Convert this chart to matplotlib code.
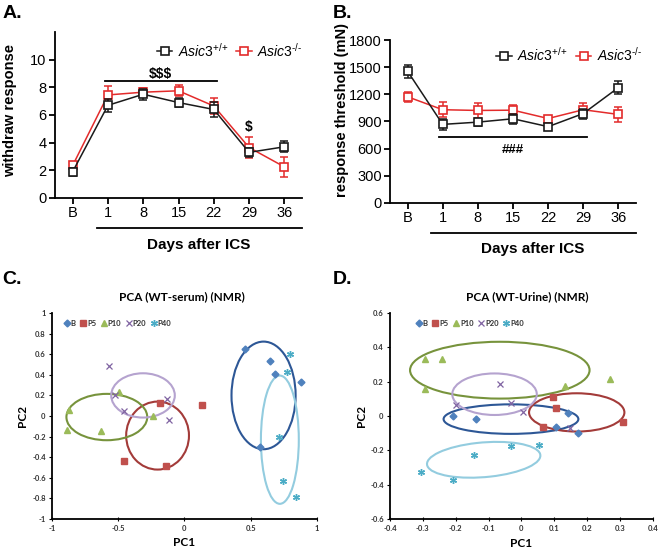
import numpy as np
import matplotlib
matplotlib.use('Agg')
import matplotlib.pyplot as plt
from matplotlib.patches import Ellipse
from matplotlib.ticker import FuncFormatter

plt.rcParams['font.family'] = ['Liberation Sans', 'DejaVu Sans']
plt.rcParams['mathtext.fontset'] = 'custom'
plt.rcParams['mathtext.it'] = 'Liberation Sans:italic'
plt.rcParams['mathtext.rm'] = 'Liberation Sans'
plt.rcParams['axes.unicode_minus'] = False

# ---- panel A / B data ----
days = ['B', '1', '8', '15', '22', '29', '36']
withdraw_wt = [1.9, 6.7, 7.5, 6.9, 6.4, 3.3, 3.7]
withdraw_wt_err = [0.3, 0.45, 0.4, 0.3, 0.55, 0.35, 0.4]
withdraw_ko = [2.35, 7.45, 7.65, 7.75, 6.65, 3.65, 2.25]
withdraw_ko_err = [0.2, 0.65, 0.3, 0.4, 0.6, 0.75, 0.72]

thresh_wt = [1455, 868, 893, 930, 843, 988, 1275]
thresh_wt_err = [70, 65, 40, 55, 25, 55, 75]
thresh_ko = [1173, 1030, 1022, 1025, 933, 1030, 978]
thresh_ko_err = [55, 85, 85, 55, 25, 75, 85]

# ---- panel C / D data (PCA scores) ----
groups = ['B', 'P5', 'P10', 'P20', 'P40']
serum_x = {
    'B': [0.455, 0.649, 0.684, 0.877, 0.568],
    'P5': [-0.184, 0.129, -0.453, -0.142],
    'P10': [-0.87, -0.887, -0.629, -0.493, -0.235],
    'P20': [-0.571, -0.523, -0.455, -0.134, -0.119],
    'P40': [0.794, 0.774, 0.714, 0.744, 0.844],
}
serum_y = {
    'B': [0.65, 0.53, 0.41, 0.33, -0.30],
    'P5': [0.13, 0.11, -0.44, -0.49],
    'P10': [0.055, -0.14, -0.15, 0.23, 0.0],
    'P20': [0.485, 0.2, 0.05, 0.17, -0.04],
    'P40': [0.60, 0.43, -0.20, -0.63, -0.79],
}
urine_x = {
    'B': [-0.209, -0.139, 0.141, 0.105, 0.172],
    'P5': [0.096, 0.105, 0.065, 0.309],
    'P10': [-0.293, -0.242, -0.293, 0.131, 0.27],
    'P20': [-0.065, -0.199, -0.031, 0.004, 0.148],
    'P40': [-0.307, -0.209, -0.144, -0.031, 0.053],
}
urine_y = {
    'B': [0.0, -0.02, 0.018, -0.064, -0.099],
    'P5': [0.11, 0.047, -0.064, -0.035],
    'P10': [0.333, 0.333, 0.159, 0.174, 0.213],
    'P20': [0.186, 0.064, 0.077, 0.025, -0.07],
    'P40': [-0.329, -0.375, -0.228, -0.172, -0.168],
}
# confidence ellipses: centre x, centre y, width, height, angle
serum_ell = {
    'B': (0.597, 0.2, 0.484, 1.045, 0),
    'P5': (-0.203, -0.19, 0.474, 0.66, 0),
    'P10': (-0.586, -0.01, 0.61, 0.45, 0),
    'P20': (-0.313, 0.2, 0.48, 0.43, 0),
    'P40': (0.72, -0.23, 0.286, 1.245, 0),
}
urine_ell = {
    'B': (-0.032, -0.018, 0.41, 0.172, 0),
    'P5': (0.168, 0.021, 0.29, 0.223, 0),
    'P10': (-0.066, 0.267, 0.546, 0.331, 0),
    'P20': (-0.082, 0.127, 0.257, 0.242, 0),
    'P40': (-0.115, -0.255, 0.35, 0.2, 12),
}

marker_style = {
    'B': dict(marker='D', color='#4F81BD', ms=3.5),
    'P5': dict(marker='s', color='#C0504D', ms=4.2),
    'P10': dict(marker='^', color='#9BBB59', ms=4.8),
    'P20': dict(marker='x', color='#8064A2', ms=4.5, mew=0.9),
    'P40': dict(marker=(6, 2, 0), color='#4BACC6', ms=5, mew=1.0),
}
ellipse_color = {'B': '#2D5796', 'P5': '#A33B39', 'P10': '#77933C',
                 'P20': '#B5A3CF', 'P40': '#93CCDF'}

fig = plt.figure(figsize=(6.58, 5.48), dpi=100)

black = '#1a1a1a'
red = '#E32B2B'
labels = [r'$Asic3^{\text{+/+}}$', r'$Asic3^{\text{-/-}}$']


def line_panel(rect, wt, wt_err, ko, ko_err, ylim, yticks, ylabel, ylab_xy,
               leg_xy, under_x0, under_y, xlab_y):
    ax = fig.add_axes(rect)
    x = np.arange(len(days))
    handles = []
    for vals, errs, col, lab, z in [(wt, wt_err, black, labels[0], 3),
                                    (ko, ko_err, red, labels[1], 2)]:
        ax.errorbar(x, vals, yerr=errs, color=col, fmt='none', capsize=3,
                    elinewidth=1.1, capthick=1.1, zorder=z)
        h, = ax.plot(x, vals, color=col, marker='s', ms=5.5, mfc='white',
                     mew=1.2, lw=1.1, label=lab, zorder=z)
        handles.append(h)
    ax.set_xlim(-0.5, 6.5)
    ax.set_ylim(*ylim)
    ax.set_yticks(yticks)
    ax.set_xticks(x)
    ax.set_xticklabels(days)
    for s in ['top', 'right']:
        ax.spines[s].set_visible(False)
    for s in ['left', 'bottom']:
        ax.spines[s].set_linewidth(1.3)
    ax.tick_params(width=1.3, length=4, labelsize=10.5, pad=2)
    ax.set_ylabel(ylabel, fontsize=10.5, fontweight='bold')
    ax.yaxis.set_label_coords(*ylab_xy)
    ax.legend(handles=handles, loc='center left', bbox_to_anchor=leg_xy, ncol=2,
              frameon=False, fontsize=10, handlelength=1.1, handletextpad=0.4,
              columnspacing=0.6, borderaxespad=0)
    ax.plot([under_x0, 6.5], [under_y, under_y], color='black', lw=1.3,
            transform=ax.get_xaxis_transform(), clip_on=False)
    ax.text(3.57, xlab_y, 'Days after ICS', transform=ax.get_xaxis_transform(),
            ha='center', va='center', fontsize=11, fontweight='bold')
    return ax


axA = line_panel([0.0836, 0.6387, 0.3754, 0.3029], withdraw_wt, withdraw_wt_err,
                 withdraw_ko, withdraw_ko_err, (0, 12), [0, 2, 4, 6, 8, 10],
                 'withdraw response', (-0.155, 0.53), (0.39, 0.89), 0.68, -0.18, -0.285)
axA.plot([0.93, 4.08], [8.45, 8.45], color='black', lw=1.3)
axA.text(2.5, 8.95, r'\$\$\$', ha='center', va='center', fontsize=10, fontweight='bold')
axA.text(5, 5.1, r'\$', ha='center', va='center', fontsize=10, fontweight='bold')

axB = line_panel([0.5927, 0.6296, 0.3739, 0.2974], thresh_wt, thresh_wt_err,
                 thresh_ko, thresh_ko_err, (0, 1800), [0, 300, 600, 900, 1200, 1500, 1800],
                 'response threshold (mN)', (-0.168, 0.57), (0.41, 0.91), 0.66, -0.184, -0.28)
axB.plot([0.89, 5.1], [730, 730], color='black', lw=1.3)
axB.text(3.0, 590, '###', ha='center', va='center', fontsize=9.5, fontweight='bold')

fig.text(0.004, 0.975, 'A.', fontsize=14, fontweight='bold', va='center')
fig.text(0.505, 0.975, 'B.', fontsize=14, fontweight='bold', va='center')
fig.text(0.004, 0.49, 'C.', fontsize=14, fontweight='bold', va='center')
fig.text(0.505, 0.49, 'D.', fontsize=14, fontweight='bold', va='center')


def fmt(v, _):
    return f'{round(v, 2):g}'


def pca_panel(rect, xs, ys, ells, xlim, ylim, xticks, yticks, title, title_x,
              leg_x, pc2_x, pc1_y):
    ax = fig.add_axes(rect)
    for g in groups:
        st = marker_style[g]
        ax.plot(xs[g], ys[g], ls='none', label=g, zorder=3, **st)
        cx, cy, w, h, a = ells[g]
        ax.add_patch(Ellipse((cx, cy), w, h, angle=a, fill=False,
                             ec=ellipse_color[g], lw=1.5, zorder=2))
    ax.set_xlim(*xlim)
    ax.set_ylim(*ylim)
    ax.set_xticks(xticks)
    ax.set_yticks(yticks)
    ax.xaxis.set_major_formatter(FuncFormatter(fmt))
    ax.yaxis.set_major_formatter(FuncFormatter(fmt))
    for s in ['top', 'right']:
        ax.spines[s].set_visible(False)
    for s in ['left', 'bottom']:
        ax.spines[s].set_linewidth(1.3)
    ax.tick_params(axis='y', direction='out', length=2.5, width=0.8, pad=2)
    ax.tick_params(axis='x', direction='inout', length=3, width=0.8, pad=3)
    for lab in ax.get_xticklabels() + ax.get_yticklabels():
        lab.set_fontfamily('Lato')
        lab.set_fontweight('bold')
        lab.set_fontsize(5.5)
        lab.set_color('#333333')
    ax.set_title(title, fontfamily='Lato', fontweight='bold', fontsize=8.5,
                 x=title_x, y=1.02)
    ax.set_xlabel('PC1', fontfamily='Lato', fontweight='bold', fontsize=8.5)
    ax.set_ylabel('PC2', fontfamily='Lato', fontweight='bold', fontsize=8.5)
    ax.xaxis.set_label_coords(0.5, pc1_y)
    ax.yaxis.set_label_coords(pc2_x, 0.5)
    ax.legend(loc='center left', bbox_to_anchor=(leg_x, 0.95), ncol=5, frameon=False,
              prop=dict(family='Lato', weight='bold', size=5.5), handlelength=0.6,
              handletextpad=0.2, columnspacing=0.7, borderaxespad=0,
              labelcolor='#333333')
    return ax


pca_panel([0.079, 0.0529, 0.4027, 0.3759], serum_x, serum_y, serum_ell,
          (-1, 1), (-1, 1), [-1, -0.5, 0, 0.5, 1], np.round(np.linspace(-1, 1, 11), 1),
          'PCA (WT-serum) (NMR)', 0.49, 0.035, -0.09, -0.085)
pca_panel([0.5927, 0.0529, 0.3997, 0.3759], urine_x, urine_y, urine_ell,
          (-0.4, 0.4), (-0.6, 0.6), np.round(np.linspace(-0.4, 0.4, 9), 1),
          np.round(np.linspace(-0.6, 0.6, 7), 1),
          'PCA (WT-Urine) (NMR)', 0.52, 0.09, -0.087, -0.09)

fig.savefig('out.png', dpi=100)
